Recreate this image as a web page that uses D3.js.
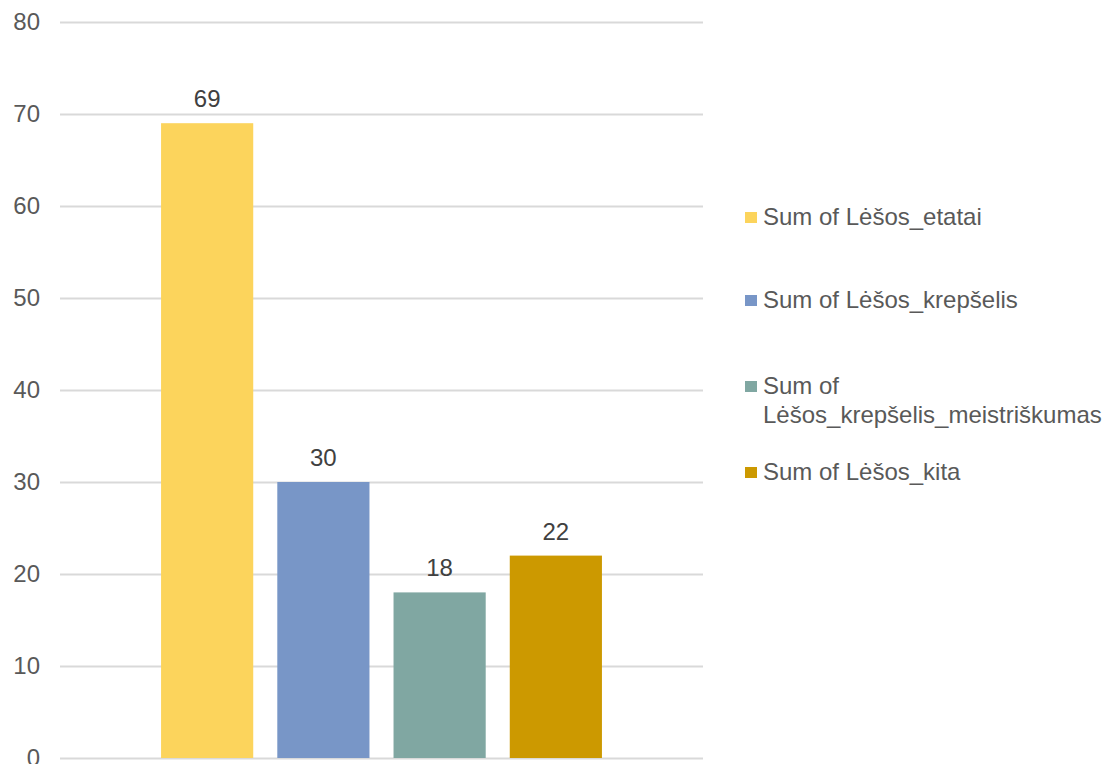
<!DOCTYPE html>
<html>
<head>
<meta charset="utf-8">
<script src="https://cdn.jsdelivr.net/npm/d3@7"></script>
<style>
  html, body { margin: 0; padding: 0; background: #fff; }
  text { font-family: "Liberation Sans", Arial, sans-serif; }
</style>
</head>
<body>
<div id="chart"></div>
<script>
const width = 1104;
const height = 764;

// data
const seriesNames = ["Sum of Lėšos_etatai", "Sum of Lėšos_krepšelis", "Sum of Lėšos_krepšelis_meistriškumas", "Sum of Lėšos_kita"];
const seriesValues = [69, 30, 18, 22];
const seriesColors = ["#FCD45C", "#7896C7", "#80A7A2", "#CC9900"];
const yTicks = [0, 10, 20, 30, 40, 50, 60, 70, 80];
// legend text split as in the reference (wrapped entry)
const legendLines = [["Sum of Lėšos_etatai"], ["Sum of Lėšos_krepšelis"], ["Sum of", "Lėšos_krepšelis_meistriškumas"], ["Sum of Lėšos_kita"]];

const plot = { left: 60, right: 703, top: 22, bottom: 758 };

const svg = d3.select("#chart").append("svg")
    .attr("width", width)
    .attr("height", height);

const y = d3.scaleLinear().domain([0, 80]).range([plot.bottom, plot.top]);

// single category, 4 series side by side
const x = d3.scaleBand()
    .domain(seriesNames)
    .range([plot.left + 77, plot.right - 77])
    .paddingInner(0.207)
    .paddingOuter(0.207);

// gridlines + y labels
const yAxis = svg.append("g")
    .attr("transform", `translate(${plot.left},0)`)
    .call(d3.axisLeft(y).tickValues(yTicks).tickSize(-(plot.right - plot.left)).tickPadding(20));
yAxis.select(".domain").remove();
yAxis.selectAll(".tick line").attr("stroke", "#D9D9D9").attr("stroke-width", 2);
yAxis.selectAll(".tick text")
    .attr("fill", "#595959")
    .style("font-size", "24px")
    .attr("x", -20);

// bars
svg.append("g").selectAll("rect")
    .data(seriesValues)
    .enter().append("rect")
    .attr("x", (d, i) => x(seriesNames[i]))
    .attr("y", d => y(d))
    .attr("width", x.bandwidth())
    .attr("height", d => y(0) - y(d))
    .attr("fill", (d, i) => seriesColors[i]);

// data labels
svg.append("g").selectAll("text")
    .data(seriesValues)
    .enter().append("text")
    .attr("x", (d, i) => x(seriesNames[i]) + x.bandwidth() / 2)
    .attr("y", d => y(d) - 16)
    .attr("text-anchor", "middle")
    .attr("fill", "#404040")
    .style("font-size", "24px")
    .text(d => d);

// legend (baseline of first line of each entry)
const legendY = [225, 308, 394, 480];
const legend = svg.append("g").selectAll("g")
    .data(legendLines)
    .enter().append("g")
    .attr("transform", (d, i) => `translate(745,${legendY[i]})`);

legend.append("rect")
    .attr("x", 0)
    .attr("y", -13)
    .attr("width", 12)
    .attr("height", 11)
    .attr("fill", (d, i) => seriesColors[i]);

legend.append("text")
    .attr("fill", "#595959")
    .style("font-size", "24px")
    .selectAll("tspan")
    .data(d => d)
    .enter().append("tspan")
    .attr("x", 18)
    .attr("y", (d, i) => i * 29)
    .text(d => d);
</script>
</body>
</html>
